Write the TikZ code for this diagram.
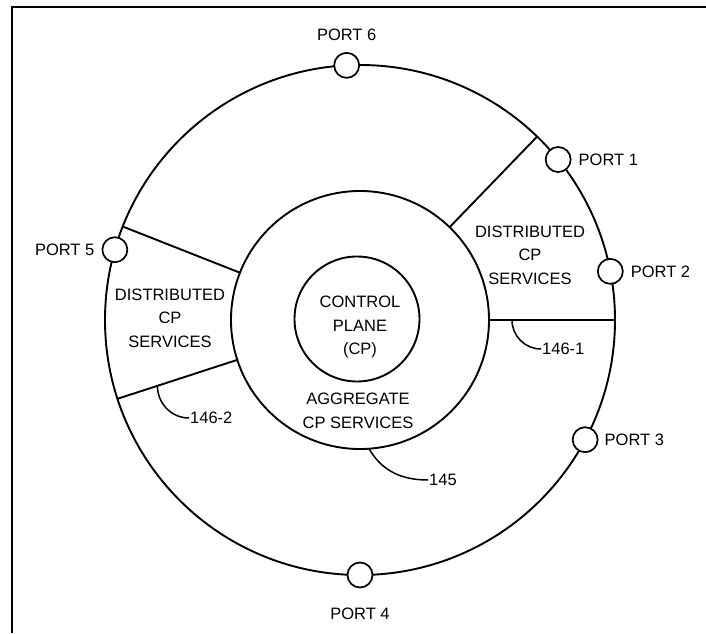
\documentclass[tikz,border=0pt]{standalone}
\usepackage{fontspec}
\setmainfont{Liberation Sans}
\usetikzlibrary{positioning,calc}

\begin{document}
\begin{tikzpicture}[x=1pt, y=1pt,
    ring/.style={draw, line width=1.9pt},
    port/.style={circle, draw, line width=1.7pt, fill=white, minimum size=25pt, inner sep=0pt},
    lbl/.style={inner sep=1pt, font=\fontsize{16.5}{23.5}\selectfont},
    svc/.style={lbl, align=center},
    lead/.style={line width=1.5pt}
]
    \useasboundingbox (0,0) rectangle (706,633);
    % Frame (top and left edge)
    \coordinate (fb) at (12,0);
    \coordinate (fc) at (12,626);
    \coordinate (fr) at (706,626);
    \draw[line width=2pt] (fb) -- (fc) -- (fr);

    % Rings
    \coordinate (c) at (360,313);
    \draw[ring] (c) circle (255);
    \draw[ring] (c) circle (129);
    \node[ring, circle, minimum size=125pt, inner sep=0pt] (cp) at (357,314) {};

    % Borders of the distributed sectors
    \foreach \a in {46,0,158.5,198}
        \draw[ring] ($(c)+(\a:129)$) -- ($(c)+(\a:255)$);

    % Ports on the outer ring
    \node[port] (p1) at ($(c)+(39:255)$) {};
    \node[port] (p2) at ($(c)+(11:255)$) {};
    \node[port] (p3) at ($(c)+(-28:255)$) {};
    \node[port] (p4) at ($(c)+(-90:255)$) {};
    \node[port] (p5) at ($(c)+(164:255)$) {};
    \node[port] (p6) at ($(c)+(93:255)$) {};
    \node[lbl, right=6pt of p1] (lp1) {PORT 1};
    \node[lbl, right=6pt of p2] (lp2) {PORT 2};
    \node[lbl, right=5pt of p3] (lp3) {PORT 3};
    \node[lbl, below=18pt of p4] (lp4) {PORT 4};
    \node[lbl, left=6pt of p5] (lp5) {PORT 5};
    \node[lbl, above=10pt of p6] (lp6) {PORT 6};

    % Services
    \node[svc] (ds1) at (530,378) {DISTRIBUTED\\CP\\SERVICES};
    \node[svc] (ds2) at (170,315) {DISTRIBUTED\\CP\\SERVICES};
    \node[svc] (cpt) at (360,306) {CONTROL\\PLANE\\(CP)};
    \node[svc] (agg) at (358,222) {AGGREGATE\\CP SERVICES};

    % Reference numerals
    \coordinate (s1) at (512,313);
    \node[lbl, anchor=west] (n1) at (541,284) {146-1};
    \draw[lead] (s1) to[out=-90, in=180] (n1.west);
    \coordinate (s2) at ($(c)+(198:213)$);
    \node[lbl, anchor=west] (n2) at (189,215) {146-2};
    \draw[lead] (s2) to[out=-90, in=180] (n2.west);
    \coordinate (s3) at ($(c)+(-86:129)$);
    \node[lbl, anchor=west] (n3) at (428,153) {145};
    \draw[lead] (s3) to[out=-60, in=180] (n3.west);
\end{tikzpicture}
\end{document}
